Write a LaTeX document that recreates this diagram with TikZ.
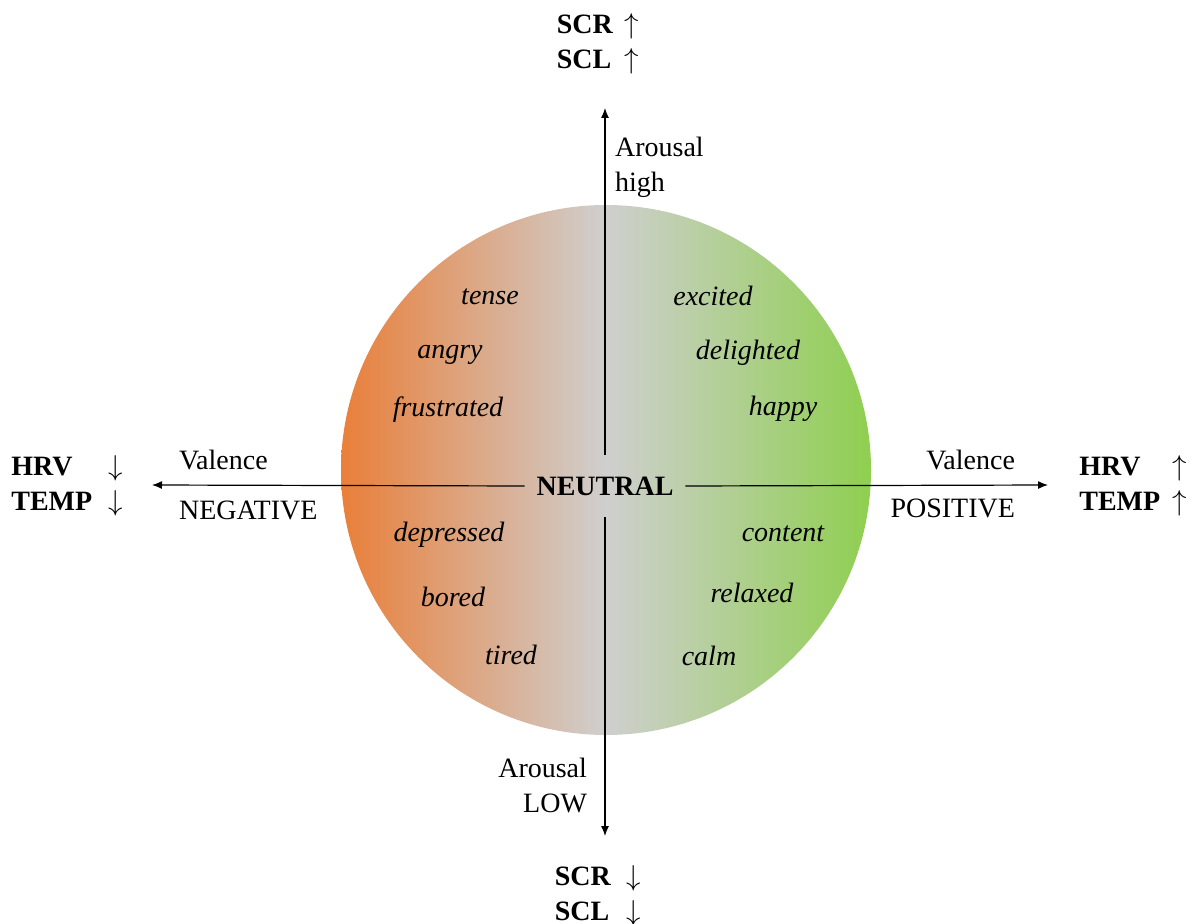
\documentclass[tikz,border=0pt]{standalone}
\usepackage{fontspec}
\setmainfont{Liberation Serif}
\usetikzlibrary{arrows.meta}
\definecolor{negcol}{HTML}{E97F3A}
\definecolor{midcol}{HTML}{CFCFCF}
\definecolor{poscol}{HTML}{8FCF50}

\begin{document}
\begin{tikzpicture}[x=0.5pt,y=-0.5pt,font=\fontsize{14}{17.5}\selectfont] % круг эмоций
\tikzstyle{axis} = [line width=0.6pt, -{Latex[length=5pt,width=4pt]}] % axis arrow style
\tikzstyle{mood} = [font=\fontsize{14}{17.5}\selectfont\itshape] % emotion word style
\tikzstyle{signal} = [font=\fontsize{14}{17.5}\selectfont\bfseries, inner sep=0pt] % physiological signal style
\useasboundingbox (0,0) rectangle (1192,924);

\shade[left color=negcol, right color=poscol, middle color=midcol] (606,470) circle (265); % фон круга

\node (neutral) [signal, minimum width=80pt, minimum height=31pt] at (605,486) {NEUTRAL}; % центр
\coordinate (hi) at (605,108);
\coordinate (lo) at (605,836);
\coordinate (neg) at (152,485);
\coordinate (pos) at (1048,485);
\draw[axis] (neutral.north) -- (hi);
\draw[axis] (neutral.south) -- (lo);
\draw[axis] (neutral.west) -- (neg);
\draw[axis] (neutral.east) -- (pos);

% подписи осей
\node (arhigh) [align=left, anchor=west] at (608,167) {Arousal\\high};
\node (arlow) [align=right, anchor=east] at (594,785) {Arousal\\LOW};
\node (valneg) [anchor=west] at (172,460) {Valence};
\node (negative) [anchor=west] at (172,510) {NEGATIVE};
\node (valpos) [anchor=east] at (1022,460) {Valence};
\node (positive) [anchor=east] at (1022,508) {POSITIVE};

% эмоции по квадрантам
\node (tense) [mood] at (490,297) {tense};
\node (angry) [mood] at (450,355) {angry};
\node (frustrated) [mood] at (448,410) {frustrated};
\node (excited) [mood] at (713,296) {excited};
\node (delighted) [mood] at (748,353) {delighted};
\node (happy) [mood] at (783,409) {happy};
\node (depressed) [mood] at (449,535) {depressed};
\node (bored) [mood] at (453,597) {bored};
\node (tired) [mood] at (511,655) {tired};
\node (content) [mood] at (783,534) {content};
\node (relaxed) [mood] at (752,593) {relaxed};
\node (calm) [mood] at (709,656) {calm};

% сигналы
\node (sigtop) [signal] at (598,44) {\begin{tabular}{@{}l@{\hspace{6pt}}c@{}}SCR & $\uparrow$\\ SCL & $\uparrow$\end{tabular}};
\node (sigbottom) [signal] at (598,896) {\begin{tabular}{@{}l@{\hspace{8pt}}c@{}}SCR & $\downarrow$\\ SCL & $\downarrow$\end{tabular}};
\node (signeg) [signal] at (67,486) {\begin{tabular}{@{}l@{\hspace{8pt}}c@{}}HRV & $\downarrow$\\ TEMP & $\downarrow$\end{tabular}};
\node (sigpos) [signal] at (1133,486) {\begin{tabular}{@{}l@{\hspace{6pt}}c@{}}HRV & $\uparrow$\\ TEMP & $\uparrow$\end{tabular}};
\end{tikzpicture}
\end{document}
